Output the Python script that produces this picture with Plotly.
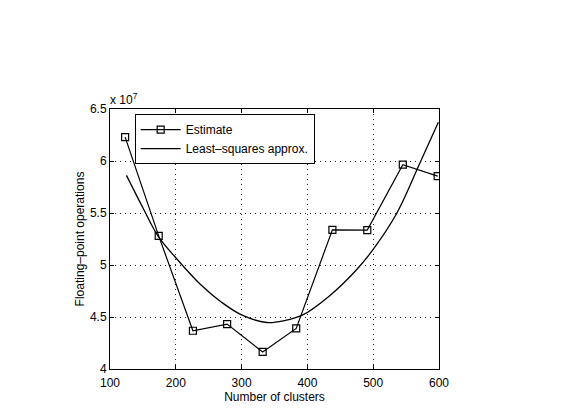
import plotly.graph_objects as go

# Estimate (floating-point operations, units of 1e7)
est_x = [123, 174, 226, 278, 332, 383, 438, 491, 545, 598]
est_y = [6.23, 5.28, 4.368, 4.432, 4.164, 4.39, 5.338, 5.335, 5.965, 5.855]

# Least-squares approximation curve
fit_x = [125, 150, 173, 200, 238, 270, 300, 338, 365, 393, 433, 474, 500, 536, 571, 599]
fit_y = [5.862, 5.55, 5.278, 5.07, 4.81, 4.64, 4.52, 4.447, 4.465, 4.52, 4.70, 4.95, 5.15, 5.5, 5.98, 6.373]

x_ticks = [100, 200, 300, 400, 500, 600]
y_ticks = [4, 4.5, 5, 5.5, 6, 6.5]
y_tick_labels = ["4", "4.5", "5", "5.5", "6", "6.5"]

font = "Liberation Sans, Arial, Helvetica, sans-serif"

fig = go.Figure()
fig.add_trace(go.Scatter(
    x=est_x, y=est_y, mode="lines+markers", name="Estimate",
    line=dict(color="black", width=1.2),
    marker=dict(symbol="square-open", size=7, color="black", line=dict(width=1.2)),
))
fig.add_trace(go.Scatter(
    x=fit_x, y=fit_y, mode="lines", name="Least\u2013squares approx.",
    line=dict(color="black", width=1.3, shape="spline", smoothing=1.0),
))

axis_common = dict(
    showline=True, linecolor="black", linewidth=1, mirror="ticks",
    ticks="inside", ticklen=4, tickcolor="black",
    showgrid=True, gridcolor="#222222", griddash="1px,4px", gridwidth=1,
    zeroline=False, tickfont=dict(family=font, size=12, color="black"),
)

fig.update_layout(
    width=579, height=410,
    margin=dict(l=110, r=140, t=109, b=41),
    paper_bgcolor="white", plot_bgcolor="white",
    font=dict(family=font, size=12, color="black"),
    xaxis=dict(range=[100, 600], tickvals=x_ticks, ticklabelstandoff=3, **axis_common,
               title=dict(text="Number of clusters", standoff=0,
                          font=dict(family=font, size=12))),
    yaxis=dict(range=[4, 6.5], tickvals=y_ticks, ticktext=y_tick_labels, **axis_common,
               title=dict(text="Floating\u2013point operations", standoff=2,
                          font=dict(family=font, size=12))),
    legend=dict(x=0.075, y=0.98, xanchor="left", yanchor="top",
                bgcolor="white", bordercolor="black", borderwidth=1,
                font=dict(family=font, size=12), tracegroupgap=0,
                itemwidth=40),
    showlegend=True,
    annotations=[dict(x=0, y=1, xref="paper", yref="paper", xanchor="left", yanchor="bottom",
                      text="x 10<sup>7</sup>", showarrow=False, xshift=-2,
                      font=dict(family=font, size=12))],
)

fig.write_html("out.html")
